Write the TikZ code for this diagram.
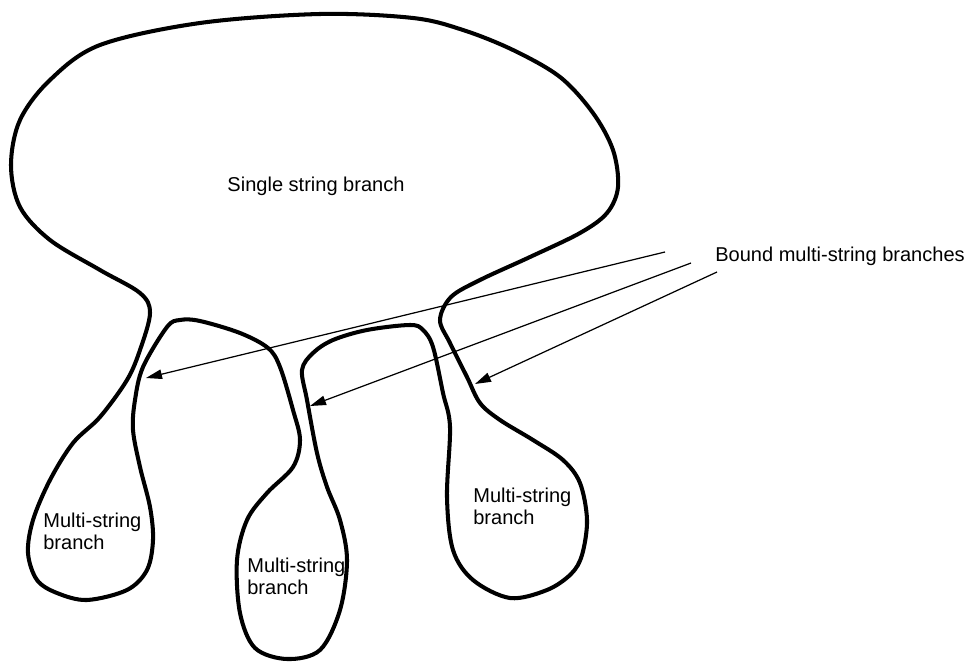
\documentclass[tikz,border=0pt]{standalone}
\usepackage{fontspec}
\setmainfont{Liberation Sans}
\usepackage{tikz}
\usetikzlibrary{arrows.meta,positioning}

\begin{document}
\begin{tikzpicture}[
    x=0.02cm, y=-0.02cm,
    % --- STYLES ---
    branchline/.style={line width=2.3pt, line join=round},
    label/.style={inner sep=0pt, font=\fontsize{11.4}{12.5}\selectfont, align=left},
    pointer/.style={-{Triangle[length=0.32cm, width=0.19cm]}, line width=0.7pt}
]
\useasboundingbox (0,0) rectangle (970,662);

% ===== 1. OUTLINE =====
\draw[branchline] plot[smooth cycle, tension=0.55] coordinates {
    (320,14) (413,18) (463,30) (513,50) (560,77) (593,113) (613,150)
    (618,187) (607,213) (580,233) (530,257) (480,280) (451,297)
    (440,320) (450,343) (467,377) (480,403) (500,420) (533,440)
    (563,460) (580,483) (587,520) (582,555) (571,574) (547,590)
    (510,598) (473,580) (453,550) (447,497) (450,427) (443,393)
    (433,347) (423,330) (410,325) (367,330) (333,340) (313,353)
    (302,370) (307,400) (317,453) (327,487) (340,520) (347,560)
    (340,610) (320,650) (287,659) (255,648) (240,613) (237,560)
    (247,520) (267,493) (293,467) (300,440) (293,410) (280,367)
    (268,348) (240,333) (200,321) (180,320) (167,327) (143,367)
    (135,400) (133,430) (140,467) (150,507) (153,540) (147,570)
    (127,590) (87,600) (57,593) (37,580) (28,553) (33,520)
    (50,480) (73,443) (100,417) (127,380) (140,350) (150,313)
    (140,293) (100,270) (50,240) (20,207) (11,165) (20,120)
    (50,80) (100,45) (200,23)
};

% ===== 2. LABELS =====
\node[label, anchor=base] (single) at (316,192) {Single string branch};
\node[label, anchor=base west] (bound) at (715,261) {Bound multi-string branches};

\node[label, anchor=north west] (ms1) at (43,513) {Multi-string\\branch};
\node[label, anchor=north west] (ms2) at (247,558) {Multi-string\\branch};
\node[label, anchor=north west] (ms3) at (473,488) {Multi-string\\branch};

% ===== 3. POINTERS =====
\coordinate (b1) at (665,252);
\coordinate (b2) at (691,263);
\coordinate (b3) at (717,272);
\coordinate (t1) at (146,378);
\coordinate (t2) at (310,406);
\coordinate (t3) at (475,384);

\draw[pointer] (b1) -- (t1);
\draw[pointer] (b2) -- (t2);
\draw[pointer] (b3) -- (t3);

\end{tikzpicture}
\end{document}
